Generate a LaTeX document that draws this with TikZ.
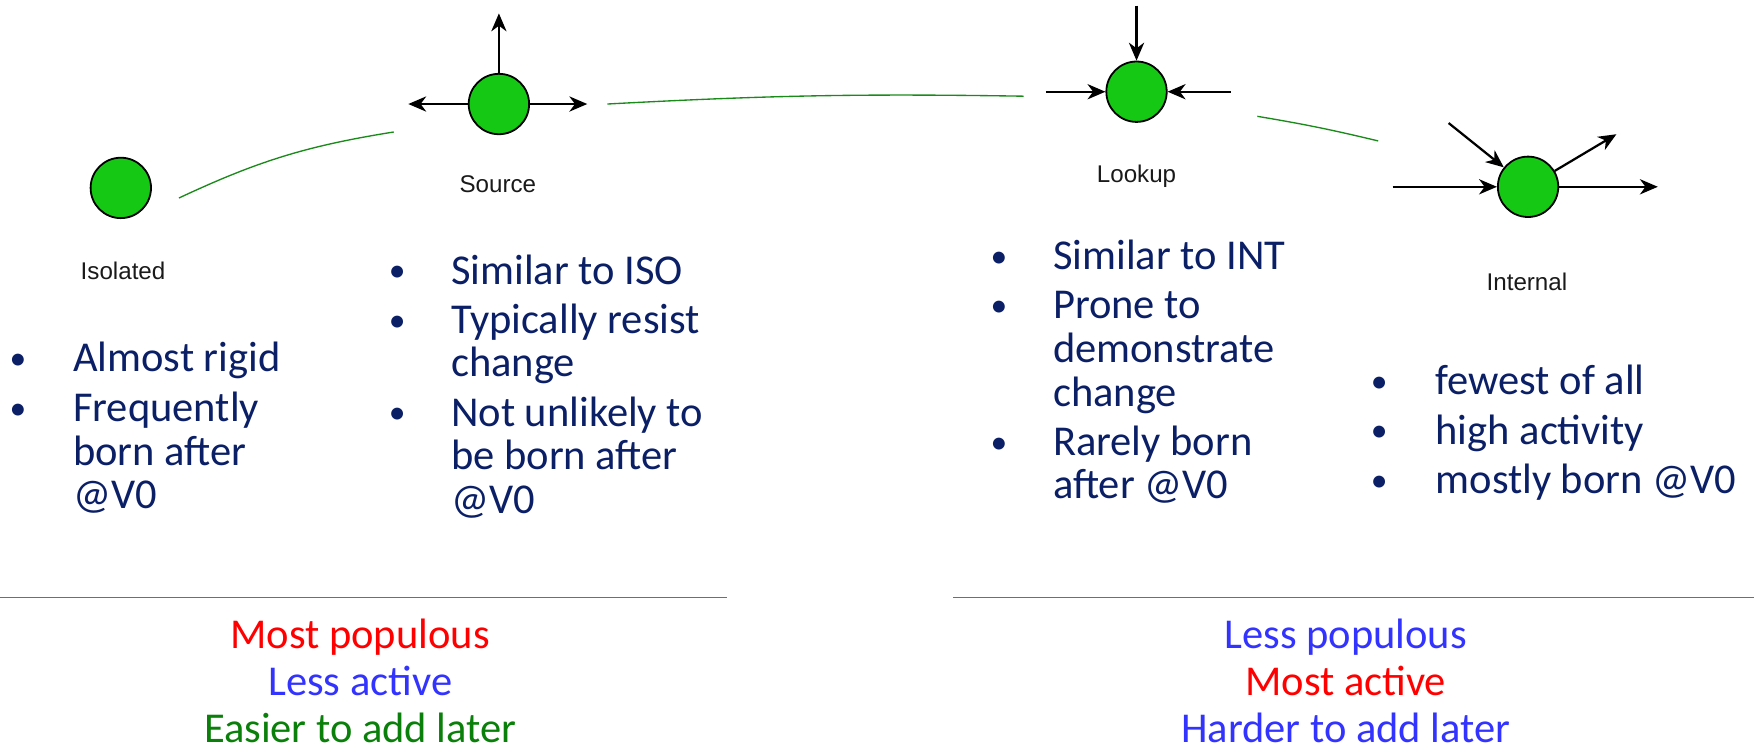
\documentclass[tikz,border=0pt]{standalone}
\usepackage{fontspec}
\setmainfont{Carlito}
\newfontfamily\lblfont{Liberation Sans}
\usetikzlibrary{arrows.meta}
\definecolor{navytext}{HTML}{0B1F66}
\definecolor{nodegreen}{RGB}{20,200,20}
\definecolor{curvegreen}{HTML}{1A8A1A}
\definecolor{rulecol}{HTML}{4A72C0}
\definecolor{redtxt}{HTML}{FF0000}
\definecolor{bluetxt}{HTML}{3333FF}
\definecolor{greentxt}{HTML}{0A800A}
\definecolor{lblgray}{HTML}{1A1A1A}
\tikzset{
  vnode/.style={circle,draw=black,line width=0.8pt,fill=nodegreen,minimum size=27pt,inner sep=0pt},
  vlabel/.style={font=\lblfont\fontsize{10.8}{12}\selectfont,text=lblgray,inner sep=0pt},
  edgearrow/.style={line width=1pt,-{Stealth[length=8pt,width=6.8pt,inset=2.5pt]}},
  linkcurve/.style={curvegreen,line width=0.6pt},
  btxt/.style={font=\fontsize{19}{21}\selectfont,text=navytext,anchor=base west,inner sep=0pt},
  bdot/.style={font=\fontsize{15}{17}\selectfont,text=navytext,anchor=base,inner sep=0pt,yshift=1pt},
  summ/.style={font=\fontsize{19}{21}\selectfont,anchor=base,inner sep=0pt},
  sepline/.style={rulecol,line width=0.6pt}
}
\begin{document}
\begin{tikzpicture}[x=0.5pt,y=-0.5pt]
\useasboundingbox (0,0) rectangle (1568,672);

% vertices
\node[vnode] (iso) at (108,168) {};
\node[vnode] (src) at (446,93) {};
\node[vnode] (lku) at (1016,82) {};
\node[vnode] (int) at (1366,167) {};

\node[vlabel] (isoL) at (110,242) {Isolated};
\node[vlabel] (srcL) at (445,165) {Source};
\node[vlabel] (lkuL) at (1016,158) {Lookup};
\node[vlabel] (intL) at (1365,252) {Internal};

% arrow end points
\coordinate (srcU) at (446,12);
\coordinate (srcW) at (365,93);
\coordinate (srcE) at (525,93);
\coordinate (lkuN) at (1016,5);
\coordinate (lkuW) at (935,82);
\coordinate (lkuE) at (1100,82);
\coordinate (intNW) at (1295,110);
\coordinate (intW) at (1245,167);
\coordinate (intNE) at (1445,120);
\coordinate (intE) at (1482,167);

\draw[edgearrow] (src) -- (srcU);
\draw[edgearrow] (src) -- (srcW);
\draw[edgearrow] (src) -- (srcE);
\draw[edgearrow] (lkuN) -- (lku);
\draw[edgearrow] (lkuW) -- (lku);
\draw[edgearrow] (lkuE) -- (lku);
\draw[edgearrow] (intNW) -- (int);
\draw[edgearrow] (intW) -- (int);
\draw[edgearrow] (int) -- (intNE);
\draw[edgearrow] (int) -- (intE);

% green link curves
\coordinate (c1a) at (160,177);
\coordinate (c1b) at (352,118);
\coordinate (c2a) at (543,93);
\coordinate (c2b) at (915,86);
\coordinate (c3a) at (1124,104);
\coordinate (c3b) at (1232,126);
\draw[linkcurve] (c1a) to[bend left=8] (c1b);
\draw[linkcurve] (c2a) to[bend left=2] (c2b);
\draw[linkcurve] (c3a) to[bend left=2] (c3b);

% list 1
\node[bdot] (b1a) at (16,332) {•};
\node[btxt] (t1a) at (65,332) {Almost rigid};
\node[bdot] (b1b) at (16,377) {•};
\node[btxt] (t1b) at (65,377) {Frequently};
\node[btxt] (t1c) at (65,416) {born after};
\node[btxt] (t1d) at (65,455) {@V0};

% list 2
\node[bdot] (b2a) at (355,254) {•};
\node[btxt] (t2a) at (403,254) {Similar to ISO};
\node[bdot] (b2b) at (355,298) {•};
\node[btxt] (t2b) at (403,298) {Typically resist};
\node[btxt] (t2c) at (403,337) {change};
\node[bdot] (b2d) at (355,381) {•};
\node[btxt] (t2d) at (403,381) {Not unlikely to};
\node[btxt] (t2e) at (403,420) {be born after};
\node[btxt] (t2f) at (403,459) {@V0};

% list 3
\node[bdot] (b3a) at (893,241) {•};
\node[btxt] (t3a) at (941,241) {Similar to INT};
\node[bdot] (b3b) at (893,285) {•};
\node[btxt] (t3b) at (941,285) {Prone to};
\node[btxt] (t3c) at (941,324) {demonstrate};
\node[btxt] (t3d) at (941,363) {change};
\node[bdot] (b3e) at (893,407) {•};
\node[btxt] (t3e) at (941,407) {Rarely born};
\node[btxt] (t3f) at (941,446) {after @V0};

% list 4
\node[bdot] (b4a) at (1233,353) {•};
\node[btxt] (t4a) at (1283,353) {fewest of all};
\node[bdot] (b4b) at (1233,397) {•};
\node[btxt] (t4b) at (1283,397) {high activity};
\node[bdot] (b4c) at (1233,441) {•};
\node[btxt] (t4c) at (1283,441) {mostly born @V0};

% separator lines
\coordinate (r1a) at (0,534);
\coordinate (r1b) at (650,534);
\coordinate (r2a) at (852,534);
\coordinate (r2b) at (1568,534);
\draw[sepline] (r1a) -- (r1b);
\draw[sepline] (r2a) -- (r2b);

% summaries
\node[summ,text=redtxt] (s1a) at (322,580) {Most populous};
\node[summ,text=bluetxt] (s1b) at (322,622) {Less active};
\node[summ,text=greentxt] (s1c) at (322,664) {Easier to add later};
\node[summ,text=bluetxt] (s2a) at (1203,580) {Less populous};
\node[summ,text=redtxt] (s2b) at (1203,622) {Most active};
\node[summ,text=bluetxt] (s2c) at (1203,664) {Harder to add later};
\end{tikzpicture}
\end{document}
